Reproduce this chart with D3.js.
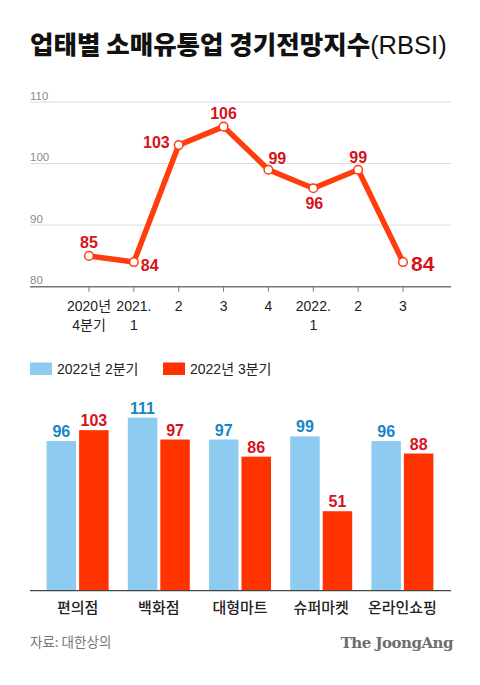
<!DOCTYPE html>
<html><head><meta charset="utf-8">
<script src="https://cdn.jsdelivr.net/npm/d3@7"></script>
<style>
html,body{margin:0;padding:0;background:#fff;}
svg{display:block;}
</style></head>
<body>
<svg id="c" width="480" height="685"></svg>
<script>
// ---- data ----
const quarterLabels = [["2020년","4분기"],["2021.","1"],["2"],["3"],["4"],["2022.","1"],["2"],["3"]];
const rbsiValues = [85, 84, 103, 106, 99, 96, 99, 84];
const yTicks = [80, 90, 100, 110];
const categories = ["편의점","백화점","대형마트","슈퍼마켓","온라인쇼핑"];
const q2Values = [96, 111, 97, 99, 96];
const q3Values = [103, 97, 86, 51, 88];
const legendLabels = ["2022년 2분기","2022년 3분기"];

const KR = "'Noto Sans CJK KR','Noto Sans',sans-serif";
const NUM = "'Liberation Sans',Arial,Helvetica,sans-serif";
const MIX = "'Liberation Sans','Noto Sans CJK KR',sans-serif";
const RED = "#ff3300", LINE = "#ff3d0f", DARKRED = "#d8121b", BLUE = "#8ecbf0", DARKBLUE = "#1685c4";

const svg = d3.select("#c");

// title
const t = svg.append("text").attr("x", 30).attr("y", 54)
  .attr("font-family", KR).attr("font-size", 25.5).attr("fill", "#111");
t.append("tspan").attr("font-weight", 900).text("업태별 소매유통업 경기전망지수");
t.append("tspan").attr("font-weight", 400).attr("font-family", NUM).text("(RBSI)");

// ---- line chart ----
const x = d3.scalePoint().domain(d3.range(rbsiValues.length)).range([89, 403]);
const y = d3.scaleLinear().domain([80, 110]).range([286.7, 102]);

const g1 = svg.append("g");
g1.selectAll("line.grid").data(yTicks.filter(d => d > 80)).join("line")
  .attr("x1", 30).attr("x2", 451).attr("y1", d => y(d)).attr("y2", d => y(d))
  .attr("stroke", "#dcdcdc").attr("stroke-width", 1);
g1.selectAll("text.yt").data(yTicks).join("text")
  .attr("x", 30).attr("y", d => y(d) - 2.5)
  .attr("font-family", NUM).attr("font-size", 11.5).attr("fill", "#8a8a8a")
  .text(d => d);
g1.append("line").attr("x1", 30).attr("x2", 451).attr("y1", y(80)).attr("y2", y(80))
  .attr("stroke", "#777").attr("stroke-width", 1.6);
g1.selectAll("line.tick").data(d3.range(rbsiValues.length)).join("line")
  .attr("x1", d => x(d)).attr("x2", d => x(d)).attr("y1", y(80)).attr("y2", y(80) + 5)
  .attr("stroke", "#777").attr("stroke-width", 1);
const xl = g1.selectAll("text.xl").data(quarterLabels).join("text")
  .attr("text-anchor", "middle").attr("font-family", MIX).attr("font-size", 14).attr("fill", "#222")
  .attr("transform", (d, i) => `translate(${x(i)},311)`);
xl.selectAll("tspan").data(d => d).join("tspan")
  .attr("x", 0).attr("dy", (d, i) => i === 0 ? 0 : 19).text(d => d);

g1.append("path").datum(rbsiValues)
  .attr("d", d3.line().x((d, i) => x(i)).y(d => y(d)))
  .attr("fill", "none").attr("stroke", LINE).attr("stroke-width", 5.5).attr("stroke-linejoin", "round");
g1.selectAll("circle").data(rbsiValues).join("circle")
  .attr("cx", (d, i) => x(i)).attr("cy", d => y(d)).attr("r", 4.3)
  .attr("fill", "#fff").attr("stroke", LINE).attr("stroke-width", 1.5);

// label placement: [dx, dy, anchor]
const lp = [[0,-8,"middle"],[7,9,"start"],[-9,3,"end"],[0,-8,"middle"],[0,-6,"start"],[1,21,"middle"],[0,-7,"middle"],[8,9,"start"]];
g1.selectAll("text.vl").data(rbsiValues).join("text")
  .attr("x", (d, i) => x(i) + lp[i][0]).attr("y", (d, i) => y(d) + lp[i][1])
  .attr("text-anchor", (d, i) => lp[i][2])
  .attr("font-family", NUM).attr("font-weight", 700)
  .attr("font-size", (d, i) => i === rbsiValues.length - 1 ? 21 : 16)
  .attr("fill", DARKRED).text(d => d);

// ---- legend ----
const lg = svg.append("g");
[[30, BLUE], [163, RED]].forEach(([lx, col], i) => {
  lg.append("rect").attr("x", lx).attr("y", 362.5).attr("width", 22).attr("height", 12.5).attr("fill", col);
  lg.append("text").attr("x", lx + 27).attr("y", 374).attr("font-family", MIX).attr("font-size", 14)
    .attr("fill", "#222").text(legendLabels[i]);
});

// ---- bar chart ----
const xb = d3.scaleBand().domain(categories).range([37, 443]).padding(0);
const yb = d3.scaleLinear().domain([0, 111]).range([590.7, 417.7]);
const bw = 29.5, gap = 1.5;
const g2 = svg.append("g");
const series = [{vals: q2Values, col: BLUE, lab: DARKBLUE, off: -gap - bw}, {vals: q3Values, col: RED, lab: DARKRED, off: gap}];
series.forEach(s => {
  g2.selectAll(null).data(s.vals).join("rect")
    .attr("x", (d, i) => xb(categories[i]) + xb.bandwidth() / 2 + s.off)
    .attr("y", d => yb(d)).attr("width", bw).attr("height", d => yb(0) - yb(d))
    .attr("fill", s.col);
  g2.selectAll(null).data(s.vals).join("text")
    .attr("x", (d, i) => xb(categories[i]) + xb.bandwidth() / 2 + s.off + bw / 2)
    .attr("y", d => yb(d) - 4).attr("text-anchor", "middle")
    .attr("font-family", NUM).attr("font-weight", 700).attr("font-size", 16)
    .attr("fill", s.lab).text(d => d);
});
g2.append("line").attr("x1", 30).attr("x2", 451).attr("y1", yb(0)).attr("y2", yb(0))
  .attr("stroke", "#444").attr("stroke-width", 1.3);
g2.selectAll("text.cat").data(categories).join("text")
  .attr("x", d => xb(d) + xb.bandwidth() / 2).attr("y", 613)
  .attr("text-anchor", "middle").attr("font-family", KR).attr("font-size", 15).attr("font-weight", 500)
  .attr("fill", "#222").text(d => d);

// footer
svg.append("text").attr("x", 30).attr("y", 647).attr("font-family", KR).attr("font-size", 13.5)
  .attr("fill", "#777").text("자료: 대한상의");
svg.append("text").attr("x", 453).attr("y", 648).attr("text-anchor", "end")
  .attr("font-family", "'DejaVu Serif','Liberation Serif',serif").attr("font-weight", 700)
  .attr("font-size", 15).attr("fill", "#6e6e6e").attr("letter-spacing", -0.5).text("The JoongAng");
</script>
</body></html>
